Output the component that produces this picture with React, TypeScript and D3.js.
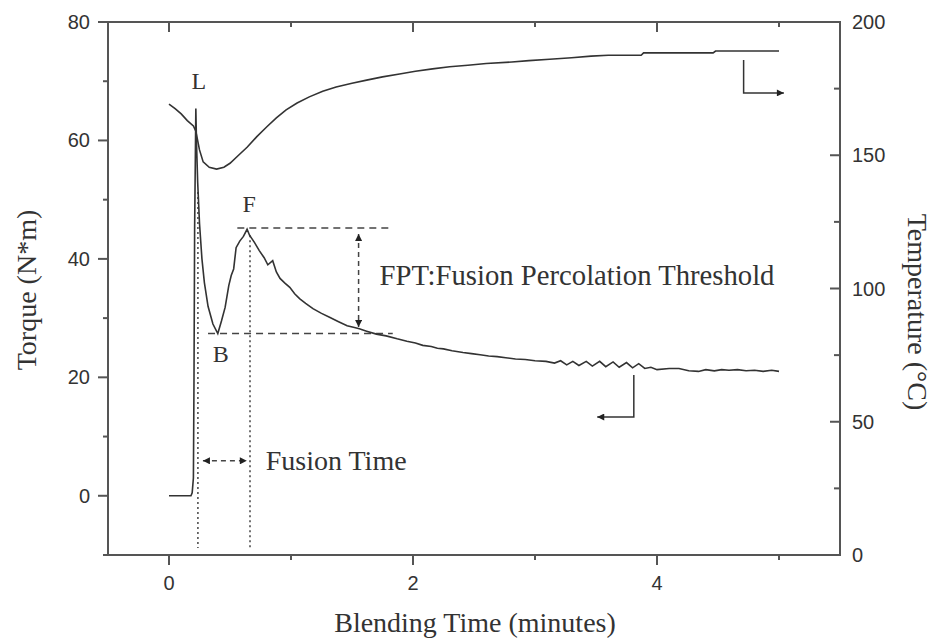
import React from "react";
import * as d3 from "d3";

// ---- data ----
const torqueTime = [0, 0.18, 0.19, 0.2, 0.205, 0.21, 0.22, 0.225, 0.235, 0.25, 0.27, 0.29, 0.32, 0.36, 0.4, 0.43, 0.46, 0.49, 0.51, 0.53, 0.55, 0.58, 0.61, 0.64, 0.66, 0.7, 0.74, 0.78, 0.81, 0.85, 0.88, 0.91, 0.95, 0.99, 1.03, 1.07, 1.12, 1.18, 1.25, 1.32, 1.39, 1.46, 1.52, 1.56, 1.62, 1.7, 1.78, 1.87, 1.95, 2.02, 2.08, 2.15, 2.2, 2.25, 2.32, 2.41, 2.48, 2.55, 2.62, 2.69, 2.76, 2.84, 2.92, 3.0, 3.09, 3.16, 3.21, 3.26, 3.31, 3.36, 3.42, 3.47, 3.53, 3.58, 3.64, 3.69, 3.75, 3.8, 3.85, 3.9, 3.95, 4.0, 4.1, 4.18, 4.26, 4.34, 4.4, 4.47, 4.53, 4.59, 4.66, 4.73, 4.8, 4.87, 4.94, 5.0];
const torqueValue = [0, 0, 0.5, 3, 20, 45, 65.4, 60, 53, 46, 40, 36, 32, 29, 27.4, 29.5, 31.8, 35.5, 37.2, 38.3, 41.9, 43, 43.8, 45, 44, 42.8, 41.4, 40.2, 39, 39.7, 37.8, 36.7, 35.9, 35.2, 34.1, 33.3, 32.5, 31.6, 30.8, 30.1, 29.4, 28.7, 28.4, 28.2, 27.8, 27.3, 27, 26.5, 26.1, 25.8, 25.4, 25.2, 24.9, 24.8, 24.5, 24.2, 24.0, 23.8, 23.6, 23.5, 23.3, 23.1, 23.0, 22.8, 22.7, 22.4, 22.8, 22.1, 22.7, 22.0, 22.7, 21.9, 22.7, 21.8, 22.6, 21.7, 22.5, 21.6, 22.3, 21.5, 21.7, 21.3, 21.5, 21.5, 21.1, 21.0, 21.3, 21.1, 21.3, 21.2, 21.3, 21.1, 21.2, 21.0, 21.2, 21.0];

const tempTime = [0, 0.05, 0.1, 0.15, 0.2, 0.22, 0.25, 0.28, 0.33, 0.39, 0.45, 0.5, 0.57, 0.64, 0.72, 0.8, 0.88, 0.96, 1.05, 1.15, 1.26, 1.37, 1.5, 1.62, 1.75, 1.89, 2.02, 2.16, 2.3, 2.45, 2.6, 2.81, 2.95, 3.12, 3.3, 3.46, 3.6, 3.87, 3.89, 4.46, 4.48, 5.0];
const tempValue = [169.2, 167.5, 165.5, 163, 161, 159, 152, 147.5, 145.5, 144.8, 145.5, 147, 150, 153, 157, 160.6, 164, 167, 169.6, 171.9, 174, 175.6, 177, 178.2, 179.4, 180.5, 181.5, 182.4, 183.2, 183.8, 184.4, 185, 185.5, 186, 186.6, 187.2, 187.5, 187.5, 188.4, 188.4, 189.1, 189.1];

const xMajorTicks = [0, 2, 4];
const xMinorTicks = [1, 3, 5];
const leftMajorTicks = [0, 20, 40, 60, 80];
const leftMinorTicks = [-10, 10, 30, 50, 70];
const rightMajorTicks = [0, 50, 100, 150, 200];
const rightMinorTicks = [25, 75, 125, 175];

// key points (time, torque)
const pointL = [0.22, 65.4];
const pointB = [0.4, 27.4];
const pointF = [0.64, 45.2];

const W = 935;
const H = 641;
const left = 108, right = 840, top = 22, bottom = 555;

export default function App() {
  const x = d3.scaleLinear().domain([-0.5, 5.5]).range([left, right]);
  const yT = d3.scaleLinear().domain([-10, 80]).range([bottom, top]);
  const yC = d3.scaleLinear().domain([0, 200]).range([bottom, top]);

  const torqueData = torqueTime.map((t, i) => [t, torqueValue[i]] as [number, number]);
  const tempData = tempTime.map((t, i) => [t, tempValue[i]] as [number, number]);

  const torqueLine = d3.line<[number, number]>().x(d => x(d[0])).y(d => yT(d[1]));
  const tempLine = d3.line<[number, number]>().x(d => x(d[0])).y(d => yC(d[1]));

  const axisColor = "#555";
  const lineColor = "#333";
  const textColor = "#333";
  const serif = "'Liberation Serif', 'DejaVu Serif', serif";
  const sans = "'Liberation Sans', Arial, sans-serif";

  const fplateau = pointF[1];
  const bplateau = pointB[1];
  const dashRight = 1.834;
  const arrowT = 1.554;

  return (
    <svg width={W} height={H} style={{ position: "absolute", left: 0, top: 0, background: "#fff" }}>
      <defs>
        <marker id="ah" viewBox="0 0 10 10" refX="10" refY="5" markerWidth="9" markerHeight="7" orient="auto-start-reverse" markerUnits="userSpaceOnUse">
          <path d="M0,0 L10,5 L0,10 z" fill="#222" />
        </marker>
      </defs>

      {/* frame */}
      <rect x={left} y={top} width={right - left} height={bottom - top} fill="none" stroke={axisColor} strokeWidth={2} />

      {/* bottom axis ticks */}
      {xMajorTicks.map(t => (
        <g key={"xb" + t}>
          <line x1={x(t)} x2={x(t)} y1={bottom} y2={bottom + 10} stroke={axisColor} strokeWidth={2} />
          <line x1={x(t)} x2={x(t)} y1={top} y2={top + 10} stroke={axisColor} strokeWidth={2} />
          <text x={x(t)} y={bottom + 35} textAnchor="middle" fontFamily={sans} fontSize={20} fill={textColor}>{t}</text>
        </g>
      ))}
      {xMinorTicks.map(t => (
        <g key={"xm" + t}>
          <line x1={x(t)} x2={x(t)} y1={bottom} y2={bottom + 5} stroke={axisColor} strokeWidth={2} />
          <line x1={x(t)} x2={x(t)} y1={top} y2={top + 5} stroke={axisColor} strokeWidth={2} />
        </g>
      ))}

      {/* left axis */}
      {leftMajorTicks.map(v => (
        <g key={"l" + v}>
          <line x1={left - 10} x2={left} y1={yT(v)} y2={yT(v)} stroke={axisColor} strokeWidth={2} />
          <text x={left - 18} y={yT(v) + 7} textAnchor="end" fontFamily={sans} fontSize={20} fill={textColor}>{v}</text>
        </g>
      ))}
      {leftMinorTicks.map(v => (
        <line key={"lm" + v} x1={left - 5} x2={left} y1={yT(v)} y2={yT(v)} stroke={axisColor} strokeWidth={2} />
      ))}

      {/* right axis */}
      {rightMajorTicks.map(v => (
        <g key={"r" + v}>
          <line x1={right - 10} x2={right} y1={yC(v)} y2={yC(v)} stroke={axisColor} strokeWidth={2} />
          <text x={right + 12} y={yC(v) + 7} textAnchor="start" fontFamily={sans} fontSize={20} fill={textColor}>{v}</text>
        </g>
      ))}
      {rightMinorTicks.map(v => (
        <line key={"rm" + v} x1={right - 6} x2={right} y1={yC(v)} y2={yC(v)} stroke={axisColor} strokeWidth={2} />
      ))}

      {/* axis titles */}
      <text transform={`translate(36,${290}) rotate(-90)`} textAnchor="middle" fontFamily={serif} fontSize={28} fill={textColor}>Torque (N*m)</text>
      <text transform={`translate(908,${312}) rotate(90)`} textAnchor="middle" fontFamily={serif} fontSize={28} fill={textColor}>Temperature (°C)</text>
      <text x={475} y={632} textAnchor="middle" fontFamily={serif} fontSize={28} fill={textColor}>Blending Time (minutes)</text>

      {/* annotation guide lines */}
      <line x1={x(0.237)} x2={x(0.237)} y1={yT(51.3)} y2={yT(-8.8)} stroke="#444" strokeWidth={1.5} strokeDasharray="2,3" />
      <line x1={x(0.664)} x2={x(0.664)} y1={yT(44)} y2={yT(-8.8)} stroke="#444" strokeWidth={1.5} strokeDasharray="2,3" />
      <line x1={x(0.56)} x2={x(dashRight)} y1={yT(fplateau)} y2={yT(fplateau)} stroke="#444" strokeWidth={1.5} strokeDasharray="7,5" />
      <line x1={x(0.32)} x2={x(dashRight)} y1={yT(bplateau)} y2={yT(bplateau)} stroke="#444" strokeWidth={1.5} strokeDasharray="7,5" />
      <line x1={x(arrowT)} x2={x(arrowT)} y1={yT(44.2)} y2={yT(28.5)} stroke="#444" strokeWidth={1.5} strokeDasharray="5,4" markerStart="url(#ah)" markerEnd="url(#ah)" />
      <line x1={x(0.278)} x2={x(0.638)} y1={yT(5.9)} y2={yT(5.9)} stroke="#444" strokeWidth={1.5} strokeDasharray="5,4" markerStart="url(#ah)" markerEnd="url(#ah)" />

      {/* bent arrows */}
      <polyline points={`${x(3.81)},${yT(20.4)} ${x(3.81)},${yT(13.3)} ${x(3.51)},${yT(13.3)}`} fill="none" stroke="#333" strokeWidth={1.5} markerEnd="url(#ah)" />
      <polyline points={`${x(4.71)},${yC(185.7)} ${x(4.71)},${yC(173.4)} ${x(5.04)},${yC(173.4)}`} fill="none" stroke="#333" strokeWidth={1.5} markerEnd="url(#ah)" />

      {/* curves */}
      <path d={tempLine(tempData) || ""} fill="none" stroke={lineColor} strokeWidth={1.6} />
      <path d={torqueLine(torqueData) || ""} fill="none" stroke={lineColor} strokeWidth={1.6} />

      {/* labels */}
      <text x={x(pointL[0]) + 3} y={yT(68.7)} textAnchor="middle" fontFamily={serif} fontSize={24} fill={textColor}>L</text>
      <text x={x(pointF[0]) + 2} y={yT(47.9)} textAnchor="middle" fontFamily={serif} fontSize={24} fill={textColor}>F</text>
      <text x={x(pointB[0]) + 3} y={yT(22.6)} textAnchor="middle" fontFamily={serif} fontSize={24} fill={textColor}>B</text>
      <text x={x(1.726)} y={yT(35.6)} fontFamily={serif} fontSize={28.7} fill={textColor}>FPT:Fusion Percolation Threshold</text>
      <text x={x(0.793)} y={yT(4.4)} fontFamily={serif} fontSize={28} fill={textColor}>Fusion Time</text>
    </svg>
  );
}
